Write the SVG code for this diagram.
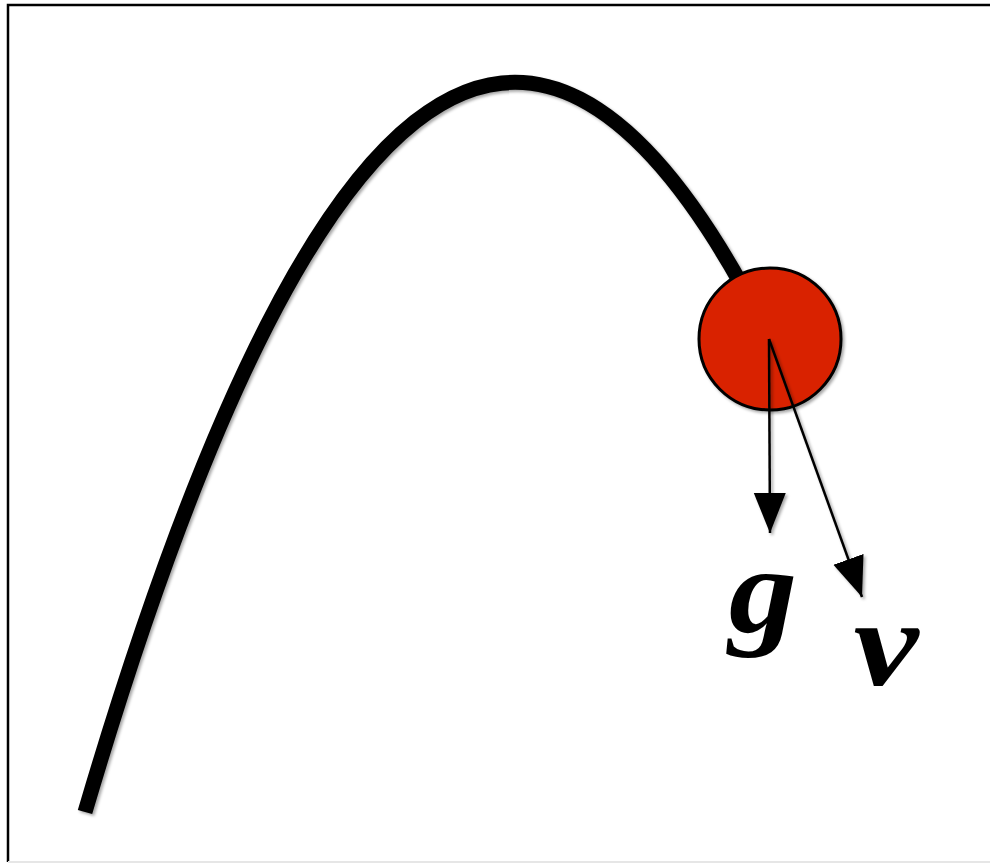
<svg xmlns="http://www.w3.org/2000/svg" width="990" height="865" viewBox="0 0 990 865">
<style>
.lbl{font-family:"Liberation Serif","DejaVu Serif",serif;font-weight:bold;font-style:italic;font-size:122px;fill:#000;text-anchor:middle}
.arr{stroke:#000;stroke-width:2.5;fill:none}
</style>
<defs>
<filter id="sh" x="-20%" y="-20%" width="140%" height="140%">
<feDropShadow dx="2" dy="2" stdDeviation="1.5" flood-color="#000" flood-opacity="0.35"/>
</filter>
<marker id="ah" markerUnits="userSpaceOnUse" markerWidth="42" markerHeight="34" refX="40" refY="16" orient="auto">
<path d="M0,0 L40,16 L0,32 z" fill="#000"/>
</marker>
</defs>
<rect width="990" height="865" fill="#fff"/>
<path d="M8,862 L8,5 L990,5" fill="none" stroke="#000" stroke-width="2.5"/>
<path d="M8,862 L990,862" fill="none" stroke="#e6e6e6" stroke-width="2"/>
<g id="trajectory" filter="url(#sh)">
<path d="M85,812 Q415,-308 745,291" fill="none" stroke="#000" stroke-width="15"/>
</g>
<g id="ball" filter="url(#sh)">
<circle cx="770" cy="339" r="71" fill="#d92200" stroke="#000" stroke-width="3"/>
</g>
<g id="connectors" filter="url(#sh)">
<line class="arr" x1="769" y1="339" x2="770" y2="533" marker-end="url(#ah)"/>
<line class="arr" x1="769" y1="339" x2="862" y2="597" marker-end="url(#ah)"/>
</g>
<g id="label-g"><text class="lbl" transform="translate(763,632) scale(1.12,1)" x="0" y="0">g</text></g>
<g id="label-v"><text class="lbl" transform="translate(886,685) scale(1.2,1)" x="0" y="0">v</text></g>
</svg>
